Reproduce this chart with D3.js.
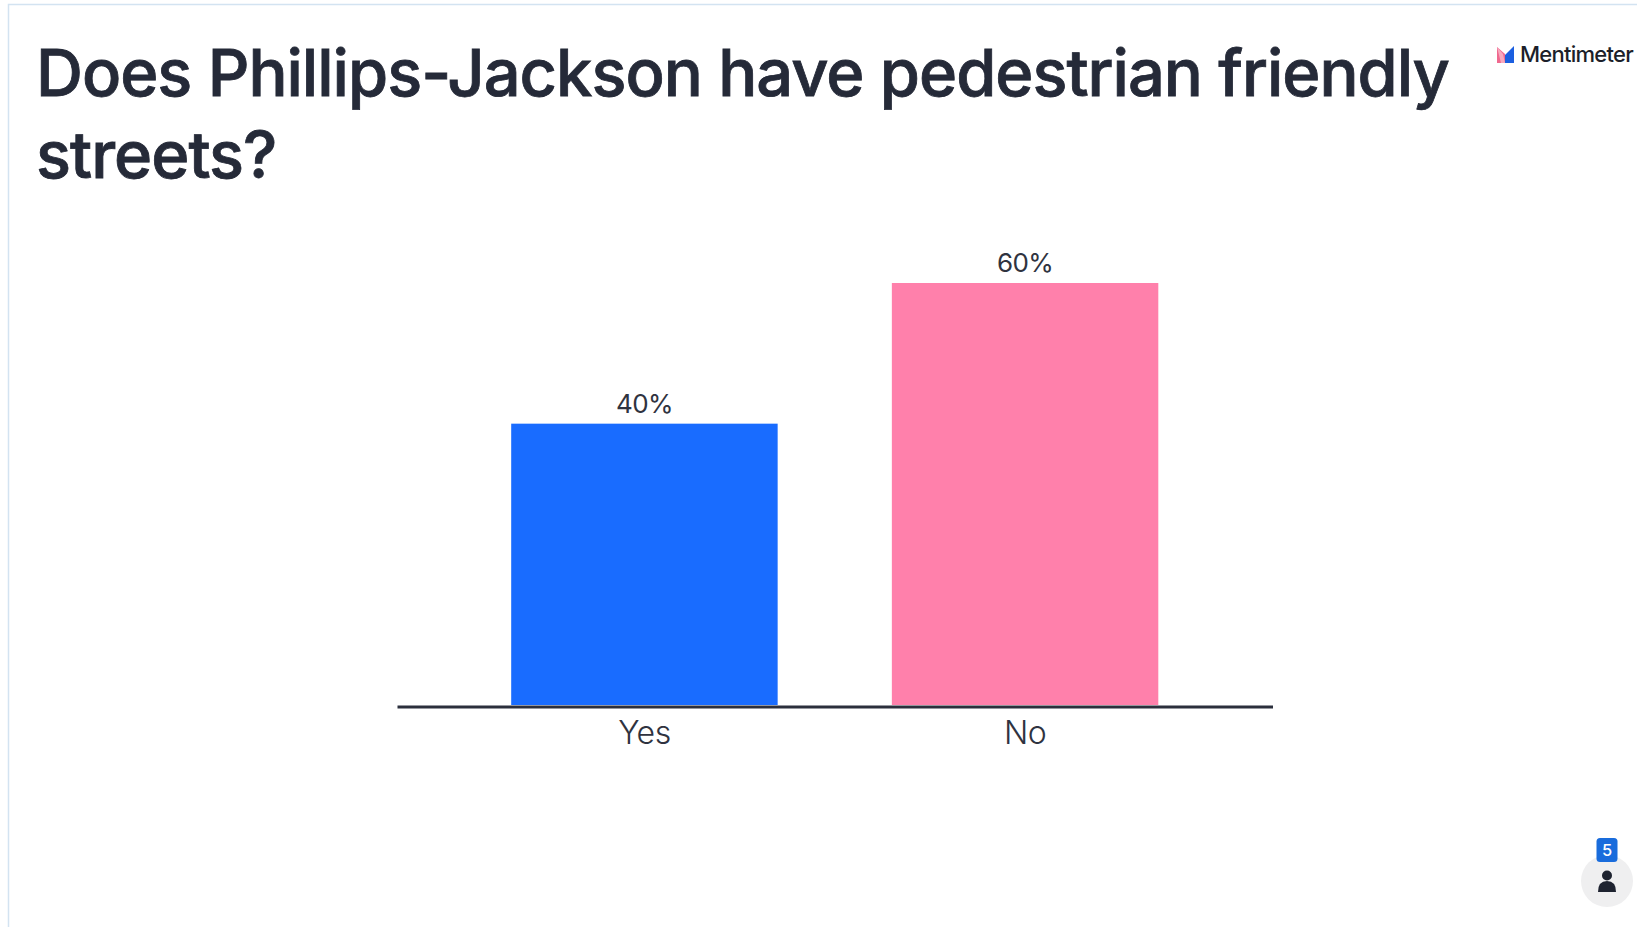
<!DOCTYPE html>
<html>
<head>
<meta charset="utf-8">
<script src="https://cdnjs.cloudflare.com/ajax/libs/d3/7.8.5/d3.min.js"></script>
<style>
html,body{margin:0;padding:0;background:#fff;overflow:hidden}
svg{display:block}
text{font-family:Inter,"Open Sans",sans-serif}
</style>
</head>
<body>
<svg id="chart" width="1637" height="927"></svg>
<script>
const categories = ["Yes", "No"];
const percentages = [40, 60];
const barColors = ["#196cff", "#ff80ab"];
const titleLines = ["Does Phillips-Jackson have pedestrian friendly", "streets?"];
const voterCount = 5;
const brandName = "Mentimeter";

const ink = "#2f3340";
const svg = d3.select("#chart");

// Slide frame: thin rule along the top and left edges
svg.append("path")
  .attr("d", "M8.5,927V4.5H1637")
  .attr("fill", "none")
  .attr("stroke", "#d3e3f1")
  .attr("stroke-width", 1.5);

// Question heading, thickened a little with a stroke of its own colour
svg.append("g").selectAll("text").data(titleLines).join("text")
  .attr("x", 36)
  .attr("y", (d, i) => 96 + i * 82)
  .attr("font-size", 65)
  .attr("font-weight", 500)
  .attr("letter-spacing", -1.0)
  .attr("fill", "#252a38")
  .attr("stroke", "#252a38")
  .attr("stroke-width", 0.8)
  .text(d => d);

// Scales
const x = d3.scaleBand().domain(categories).range([397, 1272.5]).paddingInner(0.3).paddingOuter(0.3);
const y = d3.scaleLinear().domain([0, 60]).range([705, 283]);

// Bars
svg.append("g").selectAll("rect").data(categories).join("rect")
  .attr("x", d => x(d))
  .attr("y", (d, i) => y(percentages[i]))
  .attr("width", x.bandwidth())
  .attr("height", (d, i) => y(0) - y(percentages[i]))
  .attr("fill", (d, i) => barColors[i]);

// Value labels above the bars
svg.append("g").selectAll("text").data(categories).join("text")
  .attr("x", d => x(d) + x.bandwidth() / 2)
  .attr("y", (d, i) => y(percentages[i]) - 11)
  .attr("text-anchor", "middle")
  .attr("font-size", 26)
  .attr("letter-spacing", -0.7)
  .attr("fill", ink)
  .text((d, i) => percentages[i] + "%");

// Category axis
const axis = svg.append("g")
  .attr("transform", "translate(0,706.5)")
  .call(d3.axisBottom(x).tickSize(0).tickPadding(15));
axis.select(".domain").attr("stroke", "#2b2f3c").attr("stroke-width", 3);
axis.selectAll("text")
  .attr("font-size", 32)
  .attr("font-family", "Inter, sans-serif")
  .attr("font-weight", 300)
  .attr("letter-spacing", -0.5)
  .attr("fill", ink);

// Brand mark and wordmark, top right
const logo = svg.append("g").attr("transform", "translate(1497,46)");
logo.append("path").attr("d", "M0,17V1L8,8V17Z").attr("fill", "#f0698f");
logo.append("path").attr("d", "M0,1L6,8L8,17L4,17Z").attr("fill", "#f7a9be");
logo.append("path").attr("d", "M8,17V9L17,0V17Z").attr("fill", "#1b5fe0");
svg.append("text")
  .attr("x", 1520).attr("y", 62)
  .attr("font-size", 22)
  .attr("font-weight", 500)
  .attr("letter-spacing", -0.75)
  .attr("fill", "#1c1f2a")
  .text(brandName);

// Participant counter, bottom right
const badge = svg.append("g").attr("transform", "translate(1607,881)");
badge.append("circle").attr("r", 26).attr("fill", "#efeff0");
badge.append("circle").attr("cy", -5.5).attr("r", 5).attr("fill", "#1e2330");
badge.append("path").attr("d", "M-9,11Q-9,0 0,0Q9,0 9,11Z").attr("fill", "#1e2330");
badge.append("rect").attr("x", -10.5).attr("y", -43).attr("width", 21).attr("height", 24).attr("rx", 3.5).attr("fill", "#196cdc");
badge.append("text")
  .attr("y", -25).attr("text-anchor", "middle")
  .attr("font-size", 16.5).attr("font-weight", 500)
  .attr("fill", "#fff")
  .text(voterCount);
</script>
</body>
</html>
